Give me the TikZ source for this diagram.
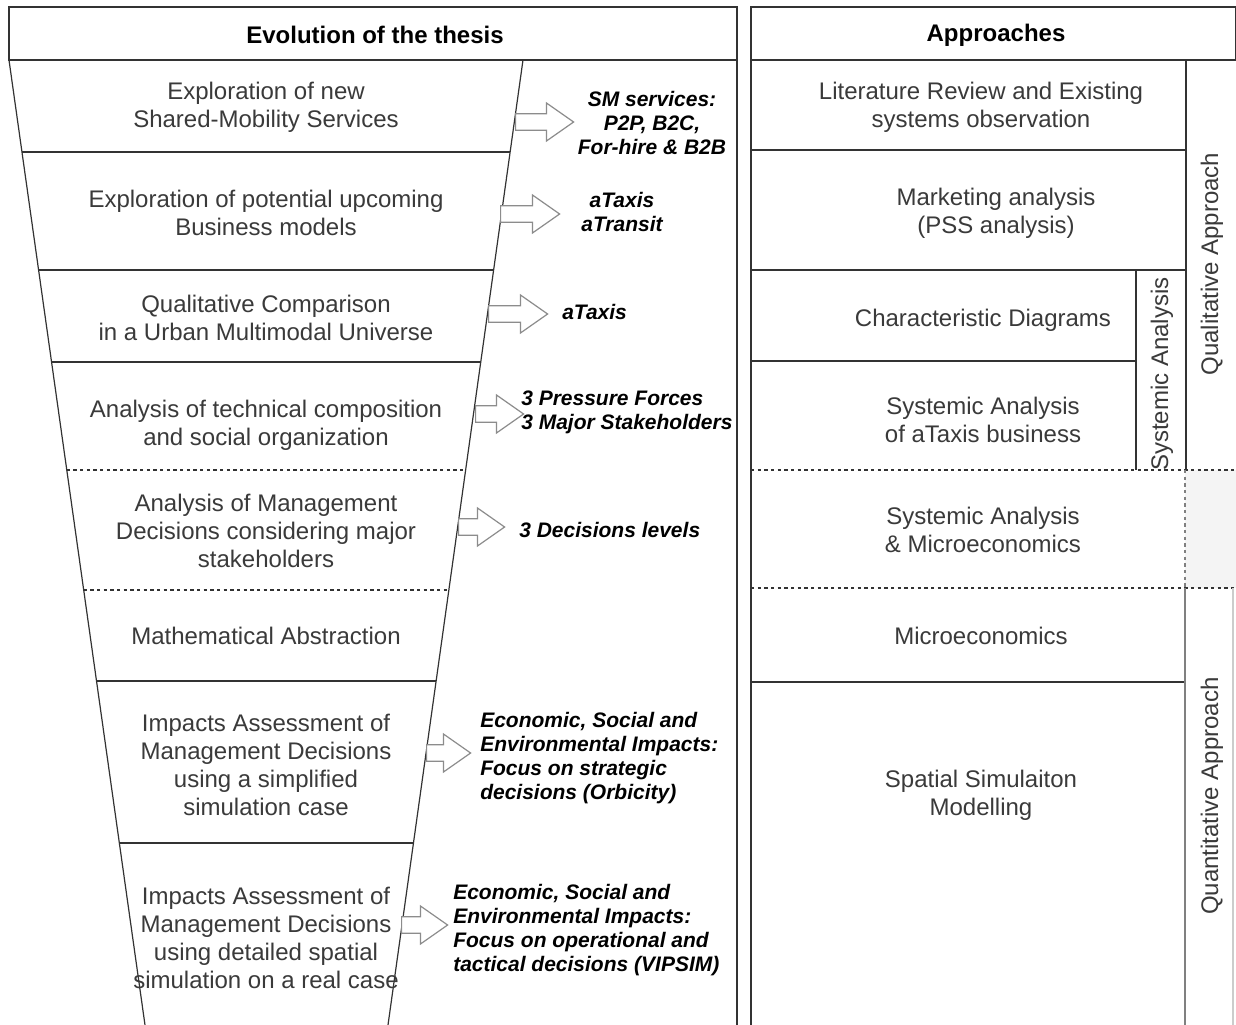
\documentclass[tikz,border=0pt]{standalone}
\usepackage{fontspec}
\setmainfont{Liberation Sans}
\usetikzlibrary{shapes.arrows,calc}
\definecolor{lncol}{HTML}{333333}
\definecolor{txcol}{HTML}{3A3A3A}
\definecolor{arcol}{HTML}{8C8C8C}
\definecolor{gboxcol}{HTML}{F4F4F4}
\definecolor{qcol}{HTML}{808080}
\begin{document}
\begin{tikzpicture}[x=0.75pt,y=-0.75pt,
 ln/.style={draw=lncol,line width=0.9pt},
 dsh/.style={draw=lncol,line width=0.9pt,dash pattern=on 2.5pt off 2.5pt},
 qln/.style={draw=qcol,line width=0.9pt},
 hdr/.style={font=\bfseries\fontsize{18}{21}\selectfont,text=black,inner sep=0},
 body/.style={font=\fontsize{18}{21}\selectfont,text=txcol,align=center,inner sep=0},
 lbl/.style={font=\bfseries\itshape\fontsize{15.75}{18}\selectfont,text=black,inner sep=0},
 rot/.style={body,rotate=90},
 arr/.style={single arrow,draw=arcol,fill=white,line width=0.9pt,inner xsep=0pt,
   inner ysep=5.8pt,single arrow head extend=8pt,single arrow tip angle=70,anchor=tail}
]
\useasboundingbox (0,0) rectangle (1236,1025);
\fill[white] (0,0) rectangle (1236,1025);

% ---------- left panel ----------
\draw[ln] (9,7) rectangle (737,60);
\node[hdr] (hleft) at (375,35) {Evolution of the thesis};
\draw[ln] (737,60) -- (737,1025);

\coordinate (FTL) at (9,60);
\coordinate (FTR) at (523,60);
\coordinate (FBL) at (145,1025);
\coordinate (FBR) at (388,1025);
\draw[ln] (FTL) -- (FBL);
\draw[ln] (FTR) -- (FBR);

\foreach \yy/\st in {152/ln,270/ln,362/ln,470/dsh,590/dsh,681/ln,843/ln}{
  \draw[\st] ($(FTL)!{(\yy-60)/965}!(FBL)$) -- ($(FTR)!{(\yy-60)/965}!(FBR)$);
}

\node[body] (e1) at (266,107) {Exploration of new\\Shared-Mobility Services};
\node[body] (e2) at (266,213) {Exploration of potential upcoming\\Business models};
\node[body] (e3) at (266,318) {Qualitative Comparison\\in a Urban Multimodal Universe};
\node[body] (e4) at (266,425) {Analysis of technical composition\\and social organization};
\node[body] (e5) at (266,531) {Analysis of Management\\Decisions considering major\\stakeholders};
\node[body] (e6) at (266,636) {Mathematical Abstraction};
\node[body] (e7) at (266,765) {Impacts Assessment of\\Management Decisions\\using a simplified\\simulation case};
\node[body] (e8) at (266,938) {Impacts Assessment of\\Management Decisions\\using detailed spatial\\simulation on a real case};

% arrows
\node[arr,minimum height=43.5pt] (a1) at (515,122) {};
\node[arr,minimum height=44.25pt] (a2) at (500,214) {};
\node[arr,minimum height=44.25pt] (a3) at (488,314) {};
\node[arr,minimum height=36pt] (a4) at (475,414) {};
\node[arr,minimum height=34.5pt] (a5) at (458,527) {};
\node[arr,minimum height=33pt] (a6) at (426,753) {};
\node[arr,minimum height=34.5pt] (a7) at (401,925) {};

% labels
\node[lbl,align=center] (l1) at (652,123) {SM services:\\P2P, B2C,\\For-hire \& B2B};
\node[lbl,align=center] (l2) at (622,212) {aTaxis\\aTransit};
\node[lbl,anchor=west] (l3) at (562,312) {aTaxis};
\node[lbl,align=left,anchor=west] (l4) at (521,412) {3 Pressure Forces\\3 Major Stakeholders};
\node[lbl,anchor=west] (l5) at (519,530) {3 Decisions levels};
\node[lbl,align=left,anchor=west] (l6) at (480,758) {Economic, Social and\\Environmental Impacts:\\Focus on strategic\\decisions (Orbicity)};
\node[lbl,align=left,anchor=west] (l7) at (453,930) {Economic, Social and\\Environmental Impacts:\\Focus on operational and\\tactical decisions (VIPSIM)};

% ---------- right panel ----------
\fill[gboxcol] (1185,470) rectangle (1236,588);
\draw[ln] (751,7) rectangle (1236,60);
\node[hdr] (hright) at (996,35) {Approaches};
\draw[ln] (751,60) -- (751,1025);
\draw[ln] (751,150) -- (1186,150);
\draw[ln] (751,270) -- (1186,270);
\draw[ln] (751,361) -- (1136,361);
\draw[ln] (1136,270) -- (1136,470);
\draw[ln] (1186,60) -- (1186,470);
\draw[dsh] (751,470) -- (1236,470);
\draw[dsh] (751,588) -- (1236,588);
\draw[draw=qcol,line width=0.9pt,dash pattern=on 2.5pt off 2.5pt] (1185,470) -- (1185,588);
\draw[ln] (751,682) -- (1185,682);
\draw[qln] (1185,588) -- (1185,1025);
\draw[draw=qcol!40,line width=0.9pt] (1233,588) -- (1233,1025);

\node[body] (r1) at (981,107) {Literature Review and Existing\\systems observation};
\node[body] (r2) at (996,213) {Marketing analysis\\(PSS analysis)};
\node[body] (r3) at (983,320) {Characteristic Diagrams};
\node[body] (r4) at (983,420) {Systemic Analysis\\of aTaxis business};
\node[body] (r5) at (983,530) {Systemic Analysis\\\& Microeconomics};
\node[body] (r6) at (981,636) {Microeconomics};
\node[body] (r7) at (981,795) {Spatial Simulaiton\\Modelling};

\node[rot] (vsys) at (1162,374) {Systemic Analysis};
\node[rot] (vqual) at (1212,264) {Qualitative Approach};
\node[rot] (vquant) at (1212,796) {Quantitative Approach};
\end{tikzpicture}
\end{document}
